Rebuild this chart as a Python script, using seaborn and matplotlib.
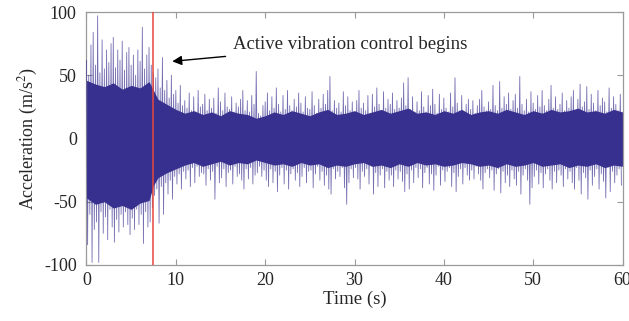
import numpy as np
import pandas as pd
import matplotlib
matplotlib.use("Agg")
import matplotlib.pyplot as plt
import seaborn as sns

# ---- data ----
# upper peak values, one every 0.25 s (4 per second, 0..59.75 s)
upper_peaks = [
    62, 50, 74, 84,  58, 97, 52, 78,  55, 70, 60, 75,  80, 56, 70, 62,  77, 54, 68, 72,
    58, 66, 50, 70,  61, 88, 55, 66,  72, 58, 52, 48,  55, 40, 64, 38,  46, 32, 50, 35,
    38, 28, 42, 26,  30, 24, 36, 22,  33, 21, 38, 25,  27, 35, 22, 31,  24, 32, 20, 40,
    29, 22, 36, 25,  23, 33, 21, 28,  25, 31, 38, 22,  30, 21, 34, 27,  53, 20, 18, 26,
    29, 36, 22, 33,  24, 40, 27, 21,  34, 23, 38, 26,  22, 31, 25, 36,  28, 21, 33, 24,
    23, 37, 26, 20,  31, 24, 35, 27,  38, 49, 22, 30,  24, 28, 21, 37,  26, 33, 22, 29,
    21, 30, 38, 24,  28, 22, 34, 20,  35, 25, 40, 27,  22, 37, 24, 31,  27, 36, 23, 30,
    24, 32, 44, 26,  48, 23, 33, 21,  29, 22, 37, 25,  21, 34, 26, 39,  27, 20, 35, 23,
    32, 24, 21, 36,  25, 48, 28, 22,  34, 21, 27, 31,  23, 30, 20, 26,  31, 38, 25, 22,
    29, 23, 42, 26,  22, 45, 24, 33,  27, 36, 23, 30,  35, 24, 49, 27,  22, 31, 21, 37,
    28, 23, 34, 25,  38, 26, 22, 31,  42, 24, 33, 23,  27, 36, 22, 30,  24, 33, 38, 21,
    31, 43, 25, 29,  41, 23, 35, 28,  22, 38, 26, 32,  29, 21, 40, 24,  33, 27, 22, 35,
]
# lower peak values, one every 0.25 s (offset by 0.125 s)
lower_peaks = [
    -84, -60, -98, -72,  -66, -98, -58, -75,  -62, -80, -56, -70,  -82, -64, -74, -60,  -70, -58, -68, -76,
    -63, -72, -56, -68,  -60, -83, -58, -70,  -66, -55, -45, -40,  -67, -38, -60, -35,  -44, -33, -48, -30,
    -36, -28, -40, -26,  -32, -25, -38, -23,  -35, -22, -30, -27,  -28, -37, -24, -33,  -26, -48, -22, -35,
    -31, -24, -38, -27,  -25, -36, -22, -30,  -28, -33, -40, -24,  -32, -23, -36, -29,  -27, -22, -30, -25,
    -33, -38, -24, -35,  -26, -42, -29, -23,  -36, -25, -40, -28,  -24, -33, -27, -38,  -30, -23, -35, -26,
    -25, -39, -28, -22,  -33, -26, -37, -29,  -40, -44, -24, -32,  -26, -30, -23, -39,  -52, -35, -24, -31,
    -23, -32, -40, -26,  -30, -24, -36, -22,  -44, -27, -38, -29,  -24, -39, -26, -33,  -29, -38, -25, -32,
    -26, -34, -42, -28,  -40, -25, -35, -23,  -31, -24, -39, -27,  -23, -36, -28, -41,  -29, -22, -37, -25,
    -34, -26, -23, -38,  -27, -42, -30, -24,  -36, -23, -29, -33,  -25, -32, -22, -28,  -33, -40, -27, -24,
    -31, -25, -41, -28,  -24, -43, -26, -35,  -29, -38, -25, -32,  -37, -26, -44, -29,  -24, -33, -52, -39,
    -30, -25, -36, -27,  -39, -28, -24, -33,  -40, -26, -35, -25,  -29, -38, -24, -32,  -26, -35, -40, -23,
    -33, -44, -27, -31,  -48, -25, -37, -30,  -24, -40, -28, -34,  -47, -23, -42, -26,  -35, -29, -24, -37,
]
# dense core envelope (one value per second, plus the switch-on instant 7.5 s)
core_t = [0, 1, 2, 3, 4, 5, 6, 7, 7.5, 8, 9, 10, 11, 12, 13, 14, 15, 16, 17, 18, 19, 20,
          21, 22, 23, 24, 25, 26, 27, 28, 29, 30, 31, 32, 33, 34, 35, 36, 37, 38, 39, 40,
          41, 42, 43, 44, 45, 46, 47, 48, 49, 50, 51, 52, 53, 54, 55, 56, 57, 58, 59, 60]
core_hi = [46, 43, 41, 44, 39, 42, 40, 45, 38, 31, 27, 23, 20, 22, 19, 21, 18, 22, 20, 19, 16, 18,
           21, 19, 22, 20, 18, 21, 23, 19, 20, 22, 19, 21, 23, 20, 22, 24, 20, 21, 19, 22,
           20, 23, 19, 21, 22, 20, 23, 21, 19, 22, 20, 23, 21, 22, 24, 21, 22, 20, 23, 21]
core_lo = [-47, -52, -50, -55, -53, -56, -51, -49, -37, -31, -27, -24, -21, -19, -22, -20, -18, -21, -19, -20, -17, -19,
           -21, -20, -22, -19, -21, -20, -23, -21, -22, -20, -19, -22, -21, -23, -20, -22, -19, -21, -20, -22,
           -21, -19, -20, -22, -21, -23, -20, -22, -21, -19, -22, -21, -20, -23, -21, -22, -20, -23, -21, -22]

control_start = 7.5
annot_text = "Active vibration control begins"
x_ticks = [0, 10, 20, 30, 40, 50, 60]
y_ticks = [-100, -50, 0, 50, 100]

# ---- build the signal table ----
step = 0.25
t_up = np.arange(len(upper_peaks)) * step
t_lo = t_up + step / 2
sig_t = np.column_stack([t_up, t_lo]).ravel()
sig_v = np.column_stack([upper_peaks, lower_peaks]).ravel()
df = pd.DataFrame({"Time (s)": sig_t, "Acceleration": sig_v})

sns.set_style("ticks")
plt.rcParams["font.family"] = ["Liberation Serif", "DejaVu Serif"]
plt.rcParams["mathtext.fontset"] = "stix"

fig = plt.figure(figsize=(6.29, 3.21), dpi=100)
ax = fig.add_axes([0.1375, 0.1745, 0.9897 - 0.1375, 0.9626 - 0.1745])

sig_color = "#38308f"
ax.fill_between(core_t, core_lo, core_hi, color=sig_color, lw=0, zorder=2)
sns.lineplot(data=df, x="Time (s)", y="Acceleration", ax=ax, color=sig_color,
             lw=0.6, alpha=0.7, estimator=None, sort=False, zorder=3)

ax.axvline(control_start, color="#e8473c", lw=1.1, zorder=4)

ax.annotate(annot_text, xy=(9.6, 61), xytext=(16.4, 74),
            fontsize=13.5, va="center", ha="left",
            arrowprops=dict(arrowstyle="-|>", color="black", lw=1.0,
                            mutation_scale=14, shrinkA=3, shrinkB=0))

ax.set_xlim(0, 60)
ax.set_ylim(-100, 100)
ax.set_xticks(x_ticks)
ax.set_yticks(y_ticks)
ax.set_xticklabels([str(v) for v in x_ticks])
ax.set_yticklabels([str(v) for v in y_ticks])
ax.set_xlabel("Time (s)", fontsize=13.5, labelpad=1)
ax.set_ylabel("Acceleration (m/s$^2$)", fontsize=13, labelpad=3)

ax.tick_params(direction="in", length=4, width=0.8, color="#9a9a9a",
               labelsize=13, top=True, right=True)
ax.tick_params(axis="y", pad=7)
ax.tick_params(axis="x", pad=5)
for s in ax.spines.values():
    s.set_visible(True)
    s.set_color("#9a9a9a")
    s.set_linewidth(0.9)

fig.savefig("out.png", dpi=100)
